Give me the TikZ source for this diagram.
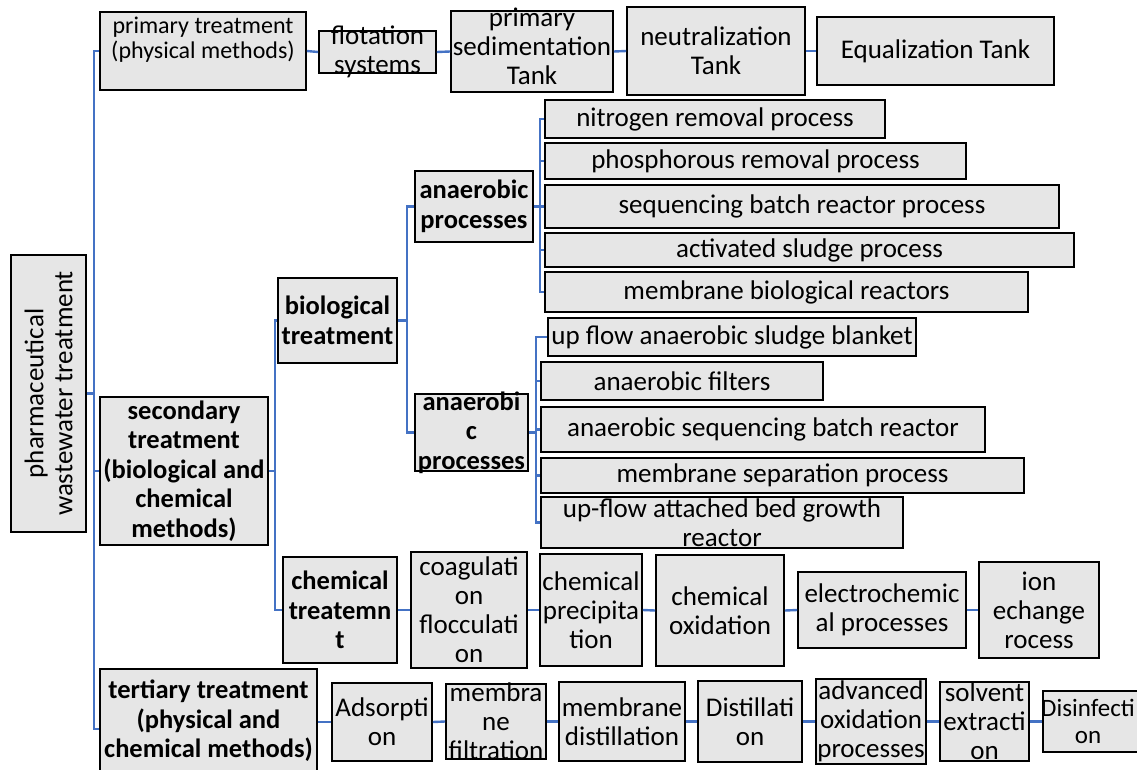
\documentclass[tikz,border=0pt]{standalone}
\usepackage{fontspec}
\setmainfont{Carlito}
\definecolor{boxfill}{RGB}{230,230,230}
\definecolor{connblue}{RGB}{68,114,196}
\newcommand\fnorm{\fontsize{27}{29}\selectfont}
\newcommand\fbold{\fontsize{26.5}{29.5}\selectfont\bfseries}
\newcommand\fsmall{\fontsize{24}{25.5}\selectfont}
\newcommand\fedge{\fontsize{25}{27}\selectfont}
\tikzset{
  box/.style={draw=black, line width=1.8pt, fill=boxfill, inner sep=0pt, rectangle},
  txt/.style={inner sep=0pt, align=center, font=\fnorm, text=black},
  bld/.style={font=\fbold},
  conn/.style={draw=connblue, line width=2.4pt},
}
% \bx[text options]{name}{x1}{y1}{x2}{y2}{text}
\newcommand\bx[7][]{%
  \node[box, minimum width={(#5-#3)*1pt}, minimum height={(#6-#4)*1pt}] (#2) at ({(#3+#5)/2},{(#4+#6)/2}) {};
  \node[txt,#1] (#2-t) at (#2.center) {#7};
}
\begin{document}
\begin{tikzpicture}[x=1pt,y=-1pt]
\useasboundingbox (0,0) rectangle (1137,769);
\clip (0,0) rectangle (1137,769);

% ---------- boxes ----------
\bx[rotate=90]{root}{11}{255}{86}{532}{pharmaceutical\\wastewater treatment}
\bx[font=\fsmall, yshift=11.5pt]{prim}{100}{12}{306}{90}{primary treatment\\(physical methods)}
\bx{flot}{319}{31}{436}{73}{flotation\\systems}
\bx[yshift=5pt]{psed}{451}{11}{613}{92}{primary\\sedimentation\\Tank}
\bx{neut}{627}{7}{805}{95}{neutralization\\Tank}
\bx{equal}{817}{17}{1054}{85}{Equalization Tank}

\bx[bld]{sec}{100}{397}{268}{545}{secondary\\treatment\\(biological and\\chemical\\methods)}
\bx[bld]{bio}{278}{278}{397}{363}{biological\\treatment}
\bx[bld]{anaA}{415}{171}{533}{242}{anaerobic\\processes}
\bx[bld]{anaB}{415}{394}{528}{471}{anaerobi\\c\\processes}
\bx[bld]{chem}{283}{557}{397}{663}{chemical\\treatemn\\t}
\bx[bld, yshift=8pt]{tert}{100}{669}{317}{789}{tertiary treatment\\(physical and\\chemical methods)}

\bx{nA}{545}{100}{885}{138}{nitrogen removal process}
\bx{nB}{545}{143}{966}{179}{phosphorous removal process}
\bx{nC}{545}{185}{1059}{228}{sequencing batch reactor process}
\bx{nD}{545}{233}{1074}{267}{activated sludge process}
\bx{nE}{545}{272}{1028}{312}{membrane biological reactors}

\bx{mA}{548}{318}{916}{356}{up flow anaerobic sludge blanket}
\bx{mB}{541}{362}{823}{400}{anaerobic filters}
\bx{mC}{541}{407}{985}{452}{anaerobic sequencing batch reactor}
\bx{mD}{541}{458}{1024}{493}{membrane separation process}
\bx{mE}{541}{497}{903}{548}{up-flow attached bed growth\\reactor}

\bx{cA}{411}{552}{527}{668}{coagulati\\on\\flocculati\\on}
\bx{cB}{540}{554}{642}{666}{chemical\\precipita\\tion}
\bx{cC}{656}{555}{784}{666}{chemical\\oxidation}
\bx{cD}{798}{572}{966}{648}{electrochemic\\al processes}
\bx{cE}{979}{562}{1099}{658}{ion\\echange\\rocess}

\bx{tA}{332}{683}{432}{761}{Adsorpti\\on}
\bx{tB}{446}{684}{546}{759}{membra\\ne\\filtration}
\bx{tC}{559}{682}{685}{761}{membrane\\distillation}
\bx{tD}{698}{681}{802}{762}{Distillati\\on}
\bx{tE}{816}{679}{926}{764}{advanced\\oxidation\\processes}
\bx{tF}{940}{682}{1029}{761}{solvent\\extracti\\on}
\bx[font=\fedge, xshift=-10pt]{tG}{1043}{691}{1153}{752}{Disinfecti\\on}

% ---------- connectors ----------
\path[conn] (root.east) -- ++(7,0) coordinate (jr);
\path[conn] (jr) |- (prim.west);
\path[conn] (jr) |- (sec.west);
\path[conn] (jr) |- (tert.west);

\path[conn] (prim.east) -- (flot.west);
\path[conn] (flot.east) -- (psed.west);
\path[conn] (psed.east) -- (neut.west);
\path[conn] (neut.east) -- (equal.west);

\path[conn] (sec.east) -- ++(6,0) coordinate (js);
\path[conn] (js) |- (bio.west);
\path[conn] (js) |- (chem.west);

\path[conn] (bio.east) -- ++(9,0) coordinate (jb);
\path[conn] (jb) |- (anaA.west);
\path[conn] (jb) |- (anaB.west);

\path[conn] (anaA.east) -- ++(6,0) coordinate (ja);
\foreach \n in {nA,nB,nC,nD,nE} \path[conn] (ja) |- (\n.west);

\path[conn] (anaB.east) -- ++(7,0) coordinate (jc);
\foreach \n in {mA,mB,mC,mD,mE} \path[conn] (jc) |- (\n.west);

\path[conn] (chem.east) -- (cA.west);
\path[conn] (cA.east) -- (cB.west);
\path[conn] (cB.east) -- (cC.west);
\path[conn] (cC.east) -- (cD.west);
\path[conn] (cD.east) -- (cE.west);

\path[conn] (tA.west -| tert.east) -- (tA.west);
\path[conn] (tA.east) -- (tB.west);
\path[conn] (tB.east) -- (tC.west);
\path[conn] (tC.east) -- (tD.west);
\path[conn] (tD.east) -- (tE.west);
\path[conn] (tE.east) -- (tF.west);
\path[conn] (tF.east) -- (tG.west);
\end{tikzpicture}
\end{document}
